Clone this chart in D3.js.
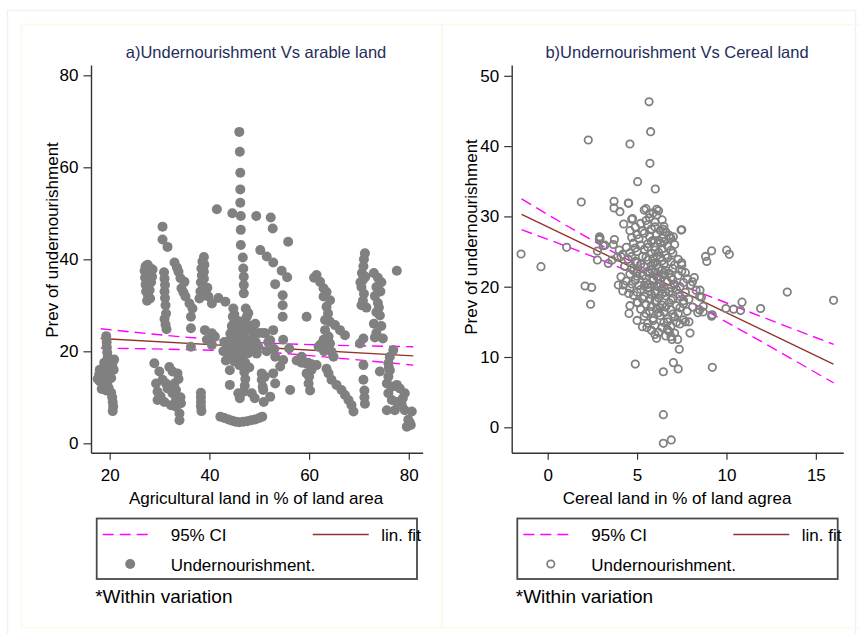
<!DOCTYPE html>
<html><head><meta charset="utf-8">
<script src="https://cdn.jsdelivr.net/npm/d3@7"></script>
<style>
body{margin:0;background:#fff}
svg{display:block}
text{font-family:"Liberation Sans",Arial,Helvetica,sans-serif}
</style>
</head><body>
<svg id="c" width="861" height="634"></svg>
<script>
// ---------- Panel a: Undernourishment vs agricultural land ----------
const agriLand = [
19.3,19.4,19.4,19.5,19.6,19.9,20.5,19.5,18.8,17.9,18.5,19.4,20.0,18.0,18.6,19.2,19.8,18.4,19.3,19.8,20.3,20.5,20.6,20.7,20.6,17.6,18.0,20.8,20.3,18.9,20.9,
27.2,27.6,28.0,27.0,27.5,28.2,27.1,27.8,28.3,27.2,27.7,28.0,27.3,27.7,28.1,27.5,28.6,28.5,
30.9,31.0,31.1,31.0,31.1,31.2,31.3,31.0,31.2,31.4,30.6,30.6,31.6,
33.0,33.8,34.2,35.0,34.4,35.2,36.0,36.6,36.3,36.3,36.3,33.5,34.8,
28.95,29.96,30.6,31.96,32.6,33.6,31.3,33.0,29.6,29.6,30.96,32.3,33.3,34.0,34.0,31.6,32.6,33.3,34.3,33.3,30.2,29.3,34.2,33.8,
38.3,38.3,38.3,38.3,38.4,
38.9,38.6,39.0,38.4,38.9,38.5,38.9,38.3,38.7,38.2,39.1,38.5,38.0,39.8,40.5,41.8,43.2,39.6,
39.1,40.5,41.1,39.5,40.5,
42.2,43.0,43.8,44.6,45.3,46.0,46.8,47.6,48.4,49.2,50.0,50.6,
46.0,46.1,46.2,46.2,46.2,46.3,46.3,46.3,46.7,46.8,46.9,46.9,46.9,
41.5,44.6,49.4,52.3,52.7,55.8,50.2,51.5,52.8,54.5,55.6,53.2,54.7,54.7,54.7,56.0,56.2,
44.8,44.7,44.9,44.6,47.3,47.5,47.4,47.2,
43.0,43.5,44.0,44.2,44.8,45.3,45.5,46.0,46.3,46.6,47.0,47.4,47.8,48.2,48.5,48.8,49.3,49.5,45.0,46.0,47.2,48.0,43.3,44.5,45.9,48.0,49.2,50.0,42.8,45.7,46.8,45.0,47.8,44.2,48.6,49.8,43.8,46.5,45.4,
47.0,47.2,47.1,46.9,44.1,44.1,45.8,46.1,48.5,49.1,50.5,50.5,50.7,50.9,52.2,52.8,53.2,54.2,54.8,53.2,52.2,51.2,52.8,50.8,51.8,53.0,51.5,54.8,51.1,50.8,
59.5,57.5,58.5,59.5,60.5,59.8,60.5,60.0,59.9,60.2,61.5,59.5,58.5,
61.5,62.2,62.9,63.5,62.9,64.2,63.5,63.2,64.2,65.2,66.2,67.2,63.2,62.9,63.9,61.9,63.5,64.5,64.9,64.2,61.0,63.8,62.3,63.0,63.8,
63.9,64.5,65.5,66.5,67.2,67.9,68.5,68.9,63.5,
71.2,71.0,70.9,70.6,70.8,70.5,71.0,70.8,70.5,71.5,70.2,70.9,70.9,70.9,71.1,71.1,71.2,70.3,71.3,
73.0,73.8,74.5,73.5,74.3,73.2,73.8,74.0,73.5,74.2,77.6,73.0,74.5,73.5,74.8,73.2,74.2,
76.9,76.2,75.9,76.2,75.9,75.6,76.6,77.6,78.2,75.9,76.6,77.6,78.6,75.6,77.2,79.2,80.6,79.9,79.6,80.4,79.2,78.8,80.2,76.0
];
const undernourishA = [
23.3,22.0,21.0,19.8,18.8,17.6,17.0,16.5,16.2,15.0,14.5,14.8,15.5,13.5,12.8,13.0,13.8,11.8,11.5,12.0,11.0,10.0,9.0,8.0,7.0,14.0,16.0,16.0,14.2,17.5,18.2,
38.5,38.8,38.2,37.5,37.0,36.8,36.0,35.5,35.0,34.5,34.0,33.3,33.0,32.2,31.5,31.0,37.8,36.2,
37.2,35.8,34.4,33.0,31.6,30.0,28.2,27.0,25.8,24.8,47.1,44.3,42.7,
39.3,37.3,35.9,35.1,33.7,31.9,30.4,29.3,27.5,25.0,21.0,38.2,32.8,
17.4,15.6,13.8,16.6,15.6,15.2,13.0,13.0,11.2,9.4,9.0,8.3,7.96,6.5,5.0,11.9,10.9,9.4,8.7,11.6,10.2,13.0,10.0,14.0,
11.0,10.0,9.0,8.0,7.0,
40.5,39.5,38.8,38.0,37.3,36.5,35.8,35.0,34.0,33.0,32.5,32.0,31.5,31.9,30.4,31.6,30.8,33.8,
24.6,23.9,23.2,22.5,21.4,
5.8,5.5,5.2,4.9,4.7,4.6,4.7,4.8,5.0,5.2,5.5,5.8,
67.7,63.4,58.8,55.2,52.3,49.4,46.4,43.1,40.4,38.0,36.2,34.4,32.6,
50.9,50.0,49.4,49.1,46.7,43.8,42.0,40.6,39.3,37.5,36.1,34.6,32.2,30.0,27.5,20.6,11.6,
29.3,27.5,26.0,24.5,29.3,27.5,26.0,24.5,
22.0,20.5,19.0,22.5,21.0,19.5,23.0,21.5,20.0,18.5,22.8,21.2,19.6,22.0,20.5,23.5,22.0,19.5,17.8,17.0,17.5,16.5,18.0,25.5,25.0,25.5,26.0,24.0,20.0,22.2,23.5,28.0,28.3,23.8,24.6,21.0,21.2,26.5,26.8,
15.5,14.0,12.5,11.2,12.7,15.9,10.9,9.8,10.9,9.8,15.2,13.8,12.3,9.0,10.1,15.2,13.0,16.7,18.1,18.8,22.4,23.9,24.6,24.0,22.0,20.5,20.0,22.5,14.5,11.6,
27.5,18.0,17.5,17.3,17.2,17.5,16.0,14.5,13.0,11.5,17.0,15.2,18.8,
36.6,35.1,33.7,32.9,31.9,31.1,29.7,26.8,26.4,25.7,24.6,23.5,24.6,22.5,23.2,21.0,21.0,19.9,18.8,21.7,36.0,28.2,21.5,20.0,22.3,
15.2,13.8,12.7,11.6,10.5,9.4,8.3,6.9,16.2,
41.3,40.0,38.5,37.0,35.5,34.0,32.5,31.0,30.0,29.5,21.7,22.8,17.0,13.8,11.5,10.0,8.6,35.0,36.2,
37.0,36.0,35.0,34.0,33.0,32.0,30.5,29.5,28.5,27.8,37.5,26.0,25.5,24.0,22.8,23.0,15.6,
20.3,18.8,17.4,15.9,14.5,13.0,12.3,12.7,11.9,10.9,9.4,9.0,8.3,7.2,7.2,7.2,6.9,5.1,3.6,4.0,10.9,9.8,4.5,16.5
];
// fitted line and 95% CI
const fitAx = [18.2, 80.9];
const fitAy = [22.8, 19.0];
const ciAx = [18.2, 34, 50, 66, 80.9];
const ciAupper = [24.9, 23.2, 21.9, 21.3, 21.0];
const ciAlower = [20.7, 20.4, 19.9, 18.5, 17.0];
const ticksAx = [20, 40, 60, 80];
const ticksAy = [0, 20, 40, 60, 80];

// ---------- Panel b: Undernourishment vs cereal land ----------
const cerealLand = [
5.67,5.76,2.27,4.60,5.72,5.03,6.02,1.88,3.71,3.71,4.04,4.53,4.75,4.25,4.60,5.5,6.1,5.7,6.1,6.47,7.46,6.84,7.03,-1.49,-0.375,1.06,2.89,2.93,3.73,2.78,3.11,2.78,3.39,2.09,2.46,2.40,3.95,4.23,4.53,4.55,5.03,5.55,6.09,6.6,6.8,6.95,7.27,7.36,4.90,7.03,7.3,6.47,9.21,6.47,6.47,6.91,7.96,8.83,8.9,9.17,10.01,10.16,10.87,9.97,10.4,10.79,11.91,13.40,15.99,8.5,8.7,9.17,8.52,8.2,8.1,7.7,7.49,7.5,7.9,7.7,2.9,3.2,4.0,4.1,4.51,4.7,7.5,6.9,8.5,8.7,9.2,3.67,
5.4,5.9,6.2,5.7,6.4,
5.2,5.6,6.0,6.5,5.8,6.3,4.9,
5.0,5.4,5.7,6.1,6.4,6.8,4.7,5.9,
4.8,5.2,5.6,6.0,6.3,6.7,7.1,4.4,5.4,
4.6,5.0,5.8,6.2,6.6,7.0,5.3,4.2,3.9,
4.5,4.9,5.6,6.0,6.4,6.9,7.3,5.2,3.6,
4.3,4.7,5.4,5.8,6.2,6.6,7.0,7.5,5.0,
4.6,5.3,5.7,6.1,6.5,6.9,7.3,7.8,4.1,
4.4,4.9,5.5,5.9,6.3,6.7,7.1,7.6,8.0,5.1,
4.6,5.2,5.6,6.0,6.4,6.8,7.2,7.7,8.3,4.2,
4.8,5.4,5.8,6.2,6.6,7.0,7.4,7.9,8.6,
5.0,5.5,6.0,6.4,6.8,7.2,7.6,8.1,4.6,
5.2,5.7,6.1,6.5,6.9,7.3,7.8,8.4,
5.4,5.9,6.3,6.7,7.1,7.6,5.0,
5.6,6.0,6.5,6.9,7.4,5.3,
5.8,6.2,6.7,7.1,
5.9,6.1,6.0,5.9,6.1,6.0,6.2,5.8,6.3,6.0,6.2,5.6,6.5,6.4,5.7,6.3,
5.5,6.0,5.3,6.6,5.1,5.8,6.5,4.9,5.6,6.4,6.9,4.7,5.5,6.1,6.7,5.0,5.9,6.5,7.1,4.8,5.6,6.4,6.8,5.0,5.5,6.3,7.0,4.7,5.4,6.2,6.9,7.4,5.0,5.7,6.6,7.3,5.3,6.1,6.9,7.6,5.8,6.6,7.4,5.5,6.2,7.0,5.9,6.7,7.2,6.4,6.0,6.9
];
const undernourishB = [
46.3,42.05,40.87,40.3,37.55,34.94,33.9,32.05,32.14,31.2,30.67,31.86,29.68,28.92,27.97,31.1,31.0,30.4,30.2,28.16,28.06,27.0,27.1,24.65,22.85,25.6,26.7,26.9,26.7,25.08,25.83,23.8,23.3,20.1,19.9,17.5,20.24,20.24,19.05,16.2,17.7,14.2,12.65,13.0,13.6,12.5,12.5,11.1,9.0,9.2,8.3,7.9,8.53,1.8,-2.28,-1.8,13.4,24.3,23.6,25.1,25.2,24.6,17.8,16.9,16.8,16.6,16.9,19.24,18.06,16.7,16.4,15.8,19.5,21.3,20.7,22.0,23.4,23.1,15.0,15.0,27.1,25.9,25.2,24.3,31.9,29.6,28.1,26.9,18.6,17.2,16.0,26.0,
30.9,30.5,30.8,29.8,29.5,
29.0,28.8,29.2,28.6,28.2,28.0,28.5,
27.4,27.6,27.1,27.4,26.9,27.3,27.0,26.6,
26.2,25.9,26.1,25.7,26.2,25.8,26.0,25.6,25.3,
24.8,25.0,24.7,24.9,24.5,24.8,24.3,24.6,24.2,
23.9,23.6,23.8,23.4,23.7,23.5,23.9,23.2,23.8,
22.9,22.6,22.8,22.4,22.7,22.3,22.6,22.2,22.1,
21.8,21.6,21.9,21.4,21.7,21.3,21.6,21.1,21.4,
20.8,20.9,20.6,20.9,20.4,20.7,20.3,20.6,20.2,20.2,
19.8,19.6,19.9,19.4,19.7,19.3,19.6,19.2,19.5,19.4,
18.8,18.6,18.9,18.4,18.7,18.3,18.6,18.2,18.5,
17.8,17.5,17.9,17.4,17.7,17.3,17.6,17.1,17.3,
16.8,16.5,16.9,16.4,16.7,16.2,16.5,16.3,
15.8,15.5,15.9,15.4,15.7,15.3,15.2,
14.8,14.5,14.9,14.4,14.7,14.3,
13.8,13.5,13.9,13.4,
24.0,23.1,22.0,21.1,20.1,19.1,21.5,23.0,24.2,25.2,26.6,20.3,22.0,19.0,18.2,17.0,
29.4,28.5,27.9,27.8,26.8,26.4,26.4,25.5,25.6,25.4,25.2,24.3,24.2,24.4,24.1,23.4,23.3,23.2,23.1,22.3,22.2,22.4,21.9,21.5,21.2,21.0,21.0,20.4,20.1,20.0,19.9,20.0,19.2,19.4,19.2,19.0,18.3,18.0,18.1,18.0,17.2,17.1,17.0,16.2,16.3,16.1,15.2,15.0,14.9,14.2,13.2,12.9
];
const fitBx = [-1.46, 15.98];
const fitBy = [30.3, 9.0];
const ciBx = [-1.46, 1.8, 5.9, 10.4, 16.0];
const ciBupper = [32.5, 27.6, 22.0, 17.3, 11.8];
const ciBlower = [28.1, 25.0, 20.6, 14.4, 6.3];
const ticksBx = [0, 5, 10, 15];
const ticksBy = [0, 10, 20, 30, 40, 50];

// ---------- drawing ----------
const svg = d3.select("#c");
const FONT = '"Liberation Sans",Arial,Helvetica,sans-serif';
const DOT = "#808080", CI = "#ff00ff", FIT = "#93312b", TITLE = "#1f2d5a", AX = "#333";

svg.append("rect").attr("x",0).attr("y",0).attr("width",861).attr("height",634).attr("fill","#fff");
svg.append("rect").attr("x",7.5).attr("y",10.5).attr("width",848).attr("height",640)
  .attr("fill","none").attr("stroke","#edf3f3").attr("stroke-width",1.5);
svg.append("rect").attr("x",21.5).attr("y",24.5).attr("width",420).attr("height",603)
  .attr("fill","none").attr("stroke","#fdf8ea").attr("stroke-width",1.5);
svg.append("rect").attr("x",442.5).attr("y",24.5).attr("width",420).attr("height",603)
  .attr("fill","none").attr("stroke","#fdf8ea").attr("stroke-width",1.5);

function panel(cfg){
  const g = svg.append("g");
  const x = d3.scaleLinear().domain(cfg.xdom).range([cfg.left, cfg.right]);
  const y = d3.scaleLinear().domain(cfg.ydom).range([cfg.bottom, cfg.top]);

  // CI and fit
  const ln = d3.line().curve(d3.curveMonotoneX);
  g.append("path").attr("d", ln(cfg.ciX.map((v,i)=>[x(v), y(cfg.ciU[i])])))
    .attr("fill","none").attr("stroke",CI).attr("stroke-width",1.4).attr("stroke-dasharray","11,6");
  g.append("path").attr("d", ln(cfg.ciX.map((v,i)=>[x(v), y(cfg.ciL[i])])))
    .attr("fill","none").attr("stroke",CI).attr("stroke-width",1.4).attr("stroke-dasharray","11,6");
  g.append("path").attr("d", d3.line()(cfg.fitX.map((v,i)=>[x(v), y(cfg.fitY[i])])))
    .attr("fill","none").attr("stroke",FIT).attr("stroke-width",1.4);

  // points
  const pts = cfg.xs.map((v,i)=>[v, cfg.ys[i]]);
  const dots = g.append("g").selectAll("circle").data(pts).join("circle")
    .attr("cx", d=>x(d[0])).attr("cy", d=>y(d[1]));
  if (cfg.solid) dots.attr("r",5).attr("fill",DOT);
  else dots.attr("r",3.7).attr("fill","none").attr("stroke",DOT).attr("stroke-width",1.8);

  // axes
  const ax = g.append("g").attr("transform",`translate(0,${cfg.bottom})`)
    .call(d3.axisBottom(x).tickValues(cfg.tx).tickSize(7).tickSizeOuter(0).tickPadding(9));
  const ay = g.append("g").attr("transform",`translate(${cfg.left},0)`)
    .call(d3.axisLeft(y).tickValues(cfg.ty).tickSize(7.5).tickSizeOuter(0).tickPadding(5));
  [ax, ay].forEach(a=>{
    a.select(".domain").attr("stroke",AX).attr("stroke-width",1.4);
    a.selectAll(".tick line").attr("stroke",AX).attr("stroke-width",1.2);
    a.selectAll(".tick text").attr("font-family",FONT).attr("font-size",17).attr("fill","#000");
  });

  // titles
  g.append("text").attr("x",cfg.titleX).attr("y",58).attr("text-anchor","middle")
    .attr("font-size",16.5).attr("fill",TITLE).text(cfg.title);
  g.append("text").attr("x",cfg.titleX).attr("y",504).attr("text-anchor","middle")
    .attr("font-size",17).attr("fill","#000").text(cfg.xlabel);
  g.append("text").attr("transform",`translate(${cfg.ylabX},${cfg.ylabY}) rotate(-90)`)
    .attr("text-anchor","middle").attr("dominant-baseline","central")
    .attr("font-size",17).attr("fill","#000").text("Prev of undernourishment");

  // legend
  const L = cfg.leg;
  g.append("rect").attr("x",L.x).attr("y",518.5).attr("width",L.w).attr("height",60.5)
    .attr("fill","#fff").attr("stroke","#4a4a4a").attr("stroke-width",1.8);
  g.append("line").attr("x1",L.x+6).attr("x2",L.x+56).attr("y1",534.5).attr("y2",534.5)
    .attr("stroke",CI).attr("stroke-width",1.4).attr("stroke-dasharray","11,6");
  g.append("text").attr("x",L.x+74).attr("y",540.7).attr("font-size",17).text("95% CI");
  g.append("line").attr("x1",L.x+216).attr("x2",L.x+272).attr("y1",534.5).attr("y2",534.5)
    .attr("stroke",FIT).attr("stroke-width",1.4);
  g.append("text").attr("x",L.x+284.5).attr("y",540.7).attr("font-size",17).text("lin. fit");
  const m = g.append("circle").attr("cx",L.x+33.5).attr("cy",564);
  if (cfg.solid) m.attr("r",5).attr("fill",DOT);
  else m.attr("r",3.7).attr("fill","none").attr("stroke",DOT).attr("stroke-width",1.8);
  g.append("text").attr("x",L.x+74).attr("y",570.7).attr("font-size",17).text("Undernourishment.");
  g.append("text").attr("x",L.x-1.5).attr("y",603).attr("font-size",19).text("*Within variation");
}

panel({xs:agriLand, ys:undernourishA, solid:true,
  xdom:[16.25, 82.79], ydom:[-2.04, 82.24], left:91, right:422.7, bottom:452.7, top:65,
  ciX:ciAx, ciU:ciAupper, ciL:ciAlower, fitX:fitAx, fitY:fitAy, tx:ticksAx, ty:ticksAy,
  title:"a)Undernourishment Vs arable land", xlabel:"Agricultural land in % of land area",
  titleX:256, ylabX:52, ylabY:240, leg:{x:96.7, w:320.3}});

panel({xs:cerealLand, ys:undernourishB, solid:false,
  xdom:[-2.013, 16.535], ydom:[-3.613, 51.536], left:511.7, right:843.3, bottom:452.7, top:65,
  ciX:ciBx, ciU:ciBupper, ciL:ciBlower, fitX:fitBx, fitY:fitBy, tx:ticksBx, ty:ticksBy,
  title:"b)Undernourishment Vs Cereal land", xlabel:"Cereal land in % of land agrea",
  titleX:677, ylabX:471.5, ylabY:237, leg:{x:517.3, w:320.4}});
</script>
</body></html>
